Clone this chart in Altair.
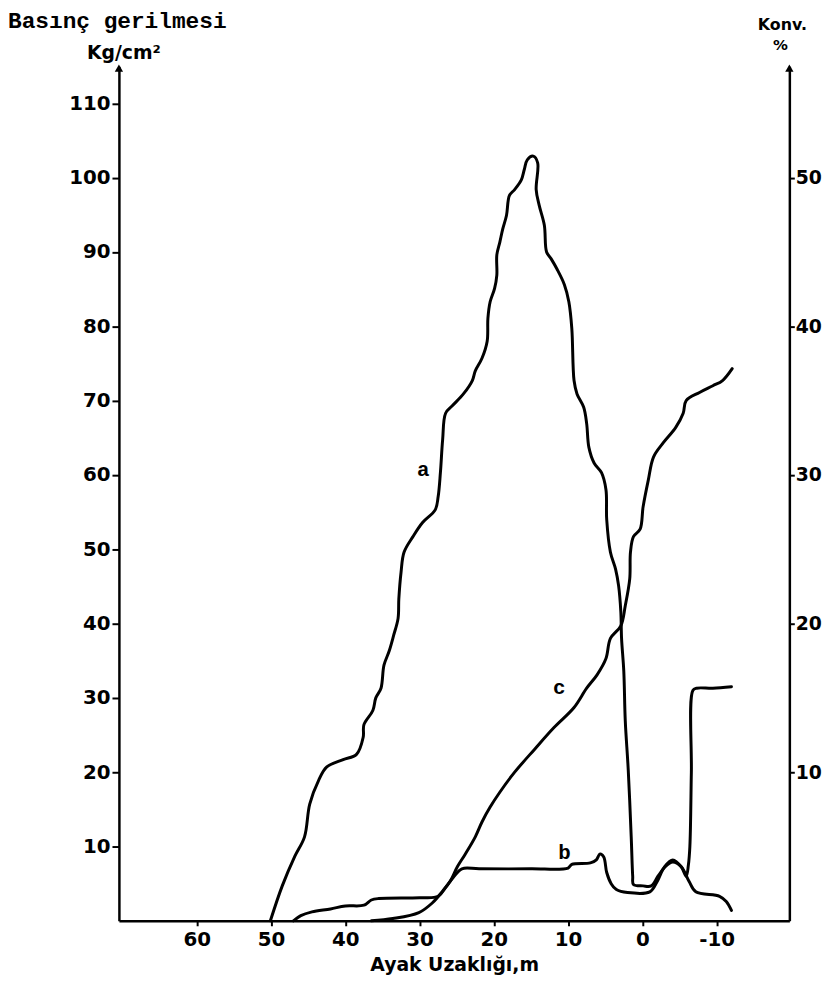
import altair as alt
import pandas as pd

# ---- data ----
# curve a : Basınç gerilmesi (Kg/cm2) vs Ayak uzaklığı (m)
a_x = [50.1, 48.5, 46.8, 45.5, 44.8, 43.6, 42.5, 40.3, 38.5, 37.6, 37.5, 36.3, 35.9, 35.2,
       34.8, 34.1, 33.5, 32.9, 32.8, 32.5, 32.1, 30.9, 29.6, 27.9, 27.5, 27.2, 26.9, 26.5,
       25.6, 24.1, 22.9, 22.5, 21.6, 20.9, 20.8, 20.5, 19.9, 19.6, 19.6, 19.2, 18.8, 18.3,
       17.9, 17.2, 16.3, 15.9, 15.5, 14.7, 14.1, 14.3, 13.9, 13.2, 12.9, 12.3, 11.5, 10.5,
       9.9, 9.5, 9.2, 8.8, 7.9, 7.5, 7.2, 6.5, 5.5, 4.9, 4.8, 4.3, 3.6, 3.2, 2.9, 2.8, 2.5,
       2.3, 1.9, 1.5, 1.3, 1.2, -0.1, -1.2, -2.1, -3.1, -4.1, -5.2, -5.9, -6.2, -6.4, -6.6,
       -6.8, -7.3, -9.5, -12.0]
a_y = [0, 4.7, 8.7, 11.3, 15.7, 18.9, 20.7, 21.7, 22.4, 24.7, 26.4, 28.3, 30.0, 31.3,
       34.4, 36.3, 38.4, 40.7, 43.3, 46.9, 49.6, 51.7, 53.6, 55.3, 57.1, 60.3, 64.7, 68.3,
       69.3, 70.9, 72.7, 74.0, 75.7, 78.0, 81.1, 83.3, 85.1, 86.9, 89.6, 91.3, 93.1, 94.9,
       97.6, 98.4, 99.7, 101.1, 102.4, 102.9, 102.0, 98.4, 96.3, 93.6, 90.0, 89.1, 87.7, 85.6,
       83.3, 79.7, 72.7, 70.9, 69.1, 66.9, 63.7, 61.6, 60.3, 58.0, 54.0, 49.6, 47.3, 45.1, 41.6,
       38.0, 33.6, 26.9, 20.3, 11.3, 6.0, 4.9, 4.7, 4.7, 6.0, 7.3, 7.9, 7.3, 6.0, 7.5, 10.0,
       20.0, 31.0, 31.3, 31.3, 31.5]

# curve b : Basınç gerilmesi (Kg/cm2)
b_x = [47.0, 46.0, 44.5, 42.0, 40.0, 37.5, 36.5, 35.5, 30.0, 27.5, 26.5, 25.5, 24.3, 22.0,
       15.0, 10.0, 9.5, 7.0, 6.2, 5.7, 5.2, 4.8, 4.2, 3.5, 2.0, -1.0, -2.0, -3.0, -4.1, -5.3,
       -6.3, -7.2, -10.4, -11.3, -12.0]
b_y = [0, 0.7, 1.2, 1.6, 2.0, 2.1, 2.8, 3.0, 3.1, 3.3, 4.5, 5.8, 7.0, 7.0,
       7.0, 7.1, 7.6, 7.8, 8.2, 9.0, 8.6, 6.5, 5.0, 4.2, 3.8, 3.9, 5.3, 7.3, 8.2, 7.2,
       5.3, 3.9, 3.3, 2.6, 1.4]

# curve c : Konvergans (%)
c_x = [36.5, 33.6, 30.1, 28.3, 26.9, 25.9, 24.9, 23.9, 22.5, 21.6, 20.5, 19.2, 17.2, 14.5,
       11.9, 9.2, 7.5, 6.1, 4.9, 4.3, 2.9, 2.3, 1.7, 1.6, 1.2, 0.3, -0.1, -0.8, -1.5, -2.8,
       -4.5, -5.5, -5.9, -7.7, -9.5, -10.8, -12.1]
c_y = [0, 0.15, 0.55, 1.2, 2.0, 2.65, 3.65, 4.45, 5.65, 6.65, 7.65, 8.65, 10.0, 11.55,
       13.0, 14.35, 15.65, 16.55, 17.65, 19.0, 19.85, 21.2, 23.0, 24.8, 25.85, 26.35, 27.85,
       29.65, 31.2, 32.15, 33.2, 34.15, 35.0, 35.55, 36.0, 36.35, 37.15]

# curve name labels (left-axis units)
lab_text = ["a", "b", "c"]
lab_x = [29.5, 10.5, 11.2]
lab_y = [60.7, 9.1, 31.3]

x_ticks = [60, 50, 40, 30, 20, 10, 0, -10]
left_ticks = [10, 20, 30, 40, 50, 60, 70, 80, 90, 100, 110]
right_ticks = [10, 20, 30, 40, 50]

# ---- chart ----
W, H = 677, 863
xs = alt.Scale(domain=[70.5, -19.8], nice=False, zero=False)
yl = alt.Scale(domain=[0, 115], nice=False)
yr = alt.Scale(domain=[0, 57.5], nice=False)

num_font = "DejaVu Sans"
tw_font = "Liberation Mono"

x_axis = alt.Axis(values=x_ticks, title="Ayak Uzaklığı,m", grid=False,
                  labelExpr="datum.value < 0 ? '-' + abs(datum.value) : datum.label",
                  labelFont=num_font, labelFontWeight="bold", labelFontSize=20,
                  labelColor="black", tickColor="black", tickWidth=2, tickSize=5,
                  labelPadding=4, domainColor="black", domainWidth=2.5,
                  titleFont=num_font, titleFontWeight="bold", titleFontSize=19,
                  titleColor="black", titlePadding=6)
left_axis = alt.Axis(values=left_ticks, title=None, grid=False,
                     labelFont=num_font, labelFontWeight="bold", labelFontSize=20,
                     labelColor="black", tickColor="black", tickWidth=2, tickSize=7,
                     labelPadding=2, domainColor="black", domainWidth=2.5)
right_axis = alt.Axis(values=right_ticks, title=None, grid=False, orient="right",
                      labelFont=num_font, labelFontWeight="bold", labelFontSize=19,
                      labelColor="black", tickColor="black", tickWidth=2, tickSize=5,
                      labelPadding=1, domainColor="black", domainWidth=2.5)

df_a = pd.DataFrame({"x": a_x, "y": a_y, "o": range(len(a_x))})
df_b = pd.DataFrame({"x": b_x, "y": b_y, "o": range(len(b_x))})
df_c = pd.DataFrame({"x": c_x, "y": c_y, "o": range(len(c_x))})
df_lab = pd.DataFrame({"x": lab_x, "y": lab_y, "t": lab_text})

line_kw = dict(color="black", strokeWidth=3, strokeJoin="round", strokeCap="round",
               interpolate="catmull-rom")

line_a = alt.Chart(df_a).mark_line(**line_kw).encode(
    x=alt.X("x:Q", scale=xs, axis=x_axis),
    y=alt.Y("y:Q", scale=yl, axis=left_axis),
    order="o:Q")
line_b = alt.Chart(df_b).mark_line(**line_kw).encode(
    x=alt.X("x:Q", scale=xs),
    y=alt.Y("y:Q", scale=yl),
    order="o:Q")
labels = alt.Chart(df_lab).mark_text(font=tw_font, fontWeight="bold", fontSize=21,
                                     color="black").encode(
    x=alt.X("x:Q", scale=xs), y=alt.Y("y:Q", scale=yl), text="t:N")

titles = pd.DataFrame({"t": ["Basınç gerilmesi"]})
t_left = alt.Chart(titles).mark_text(font=tw_font, fontWeight="bold", fontSize=23,
                                     align="left", baseline="middle", color="black").encode(
    x=alt.value(-112), y=alt.value(-46), text="t:N")
t_unit = alt.Chart(pd.DataFrame({"t": ["Kg/cm²"]})).mark_text(
    font=num_font, fontWeight="bold", fontSize=19, align="center",
    baseline="alphabetic", color="black").encode(
    x=alt.value(5), y=alt.value(-7), text="t:N")
t_konv = alt.Chart(pd.DataFrame({"t": ["Konv."]})).mark_text(
    font=num_font, fontWeight="bold", fontSize=16, align="center",
    baseline="middle", color="black").encode(
    x=alt.value(670), y=alt.value(-42), text="t:N")
t_pct = alt.Chart(pd.DataFrame({"t": ["%"]})).mark_text(
    font=num_font, fontWeight="bold", fontSize=15, align="center",
    baseline="middle", color="black").encode(
    x=alt.value(668), y=alt.value(-21), text="t:N")

arrows = pd.DataFrame({"k": [0]})
arrow_l = alt.Chart(arrows).mark_point(shape="triangle-up", filled=True, size=70,
                                       color="black", opacity=1).encode(
    x=alt.value(0), y=alt.value(2))
arrow_r = alt.Chart(arrows).mark_point(shape="triangle-up", filled=True, size=70,
                                       color="black", opacity=1).encode(
    x=alt.value(W), y=alt.value(2))

left = alt.layer(line_a, line_b, labels, t_left, t_unit, t_konv, t_pct, arrow_l, arrow_r)

line_c = alt.Chart(df_c).mark_line(**line_kw).encode(
    x=alt.X("x:Q", scale=xs),
    y=alt.Y("y:Q", scale=yr, axis=right_axis),
    order="o:Q")

chart = alt.layer(left, line_c).resolve_scale(y="independent").properties(
    width=W, height=H,
    autosize=alt.AutoSizeParams(type="none"),
    padding={"left": 112, "top": 54, "right": 37, "bottom": 53},
    background="white",
).configure_view(stroke=None)

chart.save("out.html", embed_options={"renderer": "svg", "actions": False})
